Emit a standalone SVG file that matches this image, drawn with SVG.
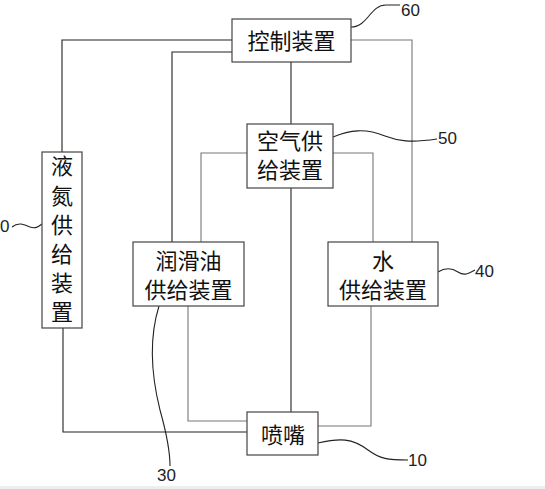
<svg xmlns="http://www.w3.org/2000/svg" width="545" height="489" viewBox="0 0 545 489">
<style>
.box{fill:#fff;stroke:#444;stroke-width:1.2}
.t{font-family:"Noto Sans CJK SC","Noto Sans",sans-serif;font-size:22px;fill:#111;text-anchor:middle}
.n{font-family:"Liberation Sans",Arial,sans-serif;font-size:17px;fill:#222}
.dk{fill:none;stroke:#222;stroke-width:1.1}
.lt{fill:none;stroke:#777;stroke-width:1.1}
.ld{fill:none;stroke:#222;stroke-width:1.1}
</style>
<rect x="0" y="0" width="545" height="489" fill="#fff"/>
<rect x="0" y="486" width="545" height="3" fill="#eeeeee"/>
<g id="connectors">
<polyline class="dk" points="232,40 62,40 62,152"/>
<polyline class="dk" points="232,52 172,52 172,242"/>
<polyline class="lt" points="351,40 412,40 412,242"/>
<line class="dk" x1="291" y1="62" x2="291" y2="124"/>
<polyline class="lt" points="247,153 201,153 201,242"/>
<polyline class="lt" points="333,153 373,153 373,242"/>
<line class="dk" x1="291" y1="188" x2="291" y2="412"/>
<polyline class="lt" points="188,305 188,421 247,421"/>
<polyline class="dk" points="63,328 63,432 247,432"/>
<polyline class="lt" points="371,306 371,426 318,426"/>
</g>
<g id="leaders">
<path class="ld" d="M351,27 C368,27 370,5 386,5 L400,5"/>
<path class="ld" d="M333,137 C350,130 365,128 385,136 C398,141 410,143 437,139"/>
<path class="ld" d="M438,272 C446,267 452,268 458,272 C464,276 468,274 475,270"/>
<path class="ld" d="M159,306 C150,335 150,370 160,410 C167,435 170,450 170,466"/>
<path class="ld" d="M318,443 C340,438 352,438 368,450 C380,459 388,460 408,460"/>
<path class="ld" d="M12,227 C18,222 24,224 30,227 C35,229 38,227 42,224"/>
</g>
<g id="n60"><rect class="box" x="232" y="19" width="119" height="43"/><text class="t" x="291.5" y="49">控制装置</text></g>
<g id="n50"><rect class="box" x="247" y="124" width="86" height="64"/><text class="t" x="290" y="149">空气供</text><text class="t" x="290" y="178">给装置</text></g>
<g id="n20"><rect class="box" x="42" y="152" width="40" height="176"/>
<text class="t" x="62" y="174">液</text><text class="t" x="62" y="204">氮</text><text class="t" x="62" y="233">供</text><text class="t" x="62" y="262">给</text><text class="t" x="62" y="291">装</text><text class="t" x="62" y="320">置</text></g>
<g id="n30"><rect class="box" x="133" y="242" width="111" height="64"/><text class="t" x="188.5" y="269">润滑油</text><text class="t" x="188.5" y="298">供给装置</text></g>
<g id="n40"><rect class="box" x="328" y="242" width="110" height="64"/><text class="t" x="383" y="269">水</text><text class="t" x="383" y="298">供给装置</text></g>
<g id="n10"><rect class="box" x="247" y="412" width="71" height="43"/><text class="t" x="283" y="443">喷嘴</text></g>
<g id="labels">
<text class="n" x="401" y="16">60</text>
<text class="n" x="438" y="144">50</text>
<text class="n" x="475" y="277">40</text>
<text class="n" x="157" y="481">30</text>
<text class="n" x="408" y="466">10</text>
<text class="n" x="0" y="232">0</text>
</g>
</svg>
